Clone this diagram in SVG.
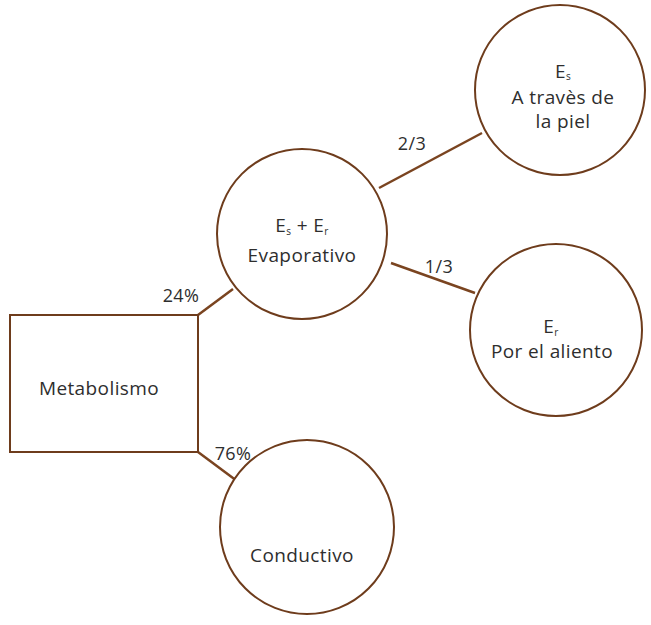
<svg xmlns="http://www.w3.org/2000/svg" width="651" height="625" viewBox="0 0 651 625">
<style>
.shape{fill:#ffffff;stroke:#6e3c1c;stroke-width:2}
.conn{stroke:#7a4420;stroke-width:2.5;fill:none}
text{font-family:"Open Sans","Noto Sans","DejaVu Sans",sans-serif;font-size:19px;letter-spacing:0.4px;fill:#2e2e2e;text-anchor:middle}
.sub{font-size:10px}
.lbl{font-size:18px}
</style>
<rect width="651" height="625" fill="#ffffff"/>
<g id="connectors">
<line class="conn" x1="198" y1="315" x2="233" y2="289"/>
<line class="conn" x1="198" y1="452" x2="237" y2="481"/>
<line class="conn" x1="379" y1="188" x2="482" y2="133"/>
<line class="conn" x1="391" y1="263" x2="475" y2="293"/>
<text class="lbl" x="181" y="302">24%</text>
<text class="lbl" x="233" y="460">76%</text>
<text class="lbl" x="412" y="150">2/3</text>
<text class="lbl" x="439" y="273">1/3</text>
</g>
<g id="metabolismo">
<rect class="shape" x="10" y="315" width="188" height="137"/>
<text x="99" y="395">Metabolismo</text>
</g>
<g id="evaporativo">
<circle class="shape" cx="302" cy="234" r="85"/>
<text x="302" y="232">E<tspan class="sub" dy="3">s</tspan><tspan dy="-3">  +  E</tspan><tspan class="sub" dy="3">r</tspan></text>
<text x="302" y="262">Evaporativo</text>
</g>
<g id="piel">
<circle class="shape" cx="560" cy="90" r="85"/>
<text x="563" y="78">E<tspan class="sub" dy="2">s</tspan></text>
<text x="563" y="104">A travès de</text>
<text x="563" y="128">la piel</text>
</g>
<g id="aliento">
<circle class="shape" cx="556" cy="330" r="86"/>
<text x="551" y="333">E<tspan class="sub" dy="3">r</tspan></text>
<text x="552" y="358">Por el aliento</text>
</g>
<g id="conductivo">
<circle class="shape" cx="307" cy="527" r="87"/>
<text x="302" y="562">Conductivo</text>
</g>
</svg>
